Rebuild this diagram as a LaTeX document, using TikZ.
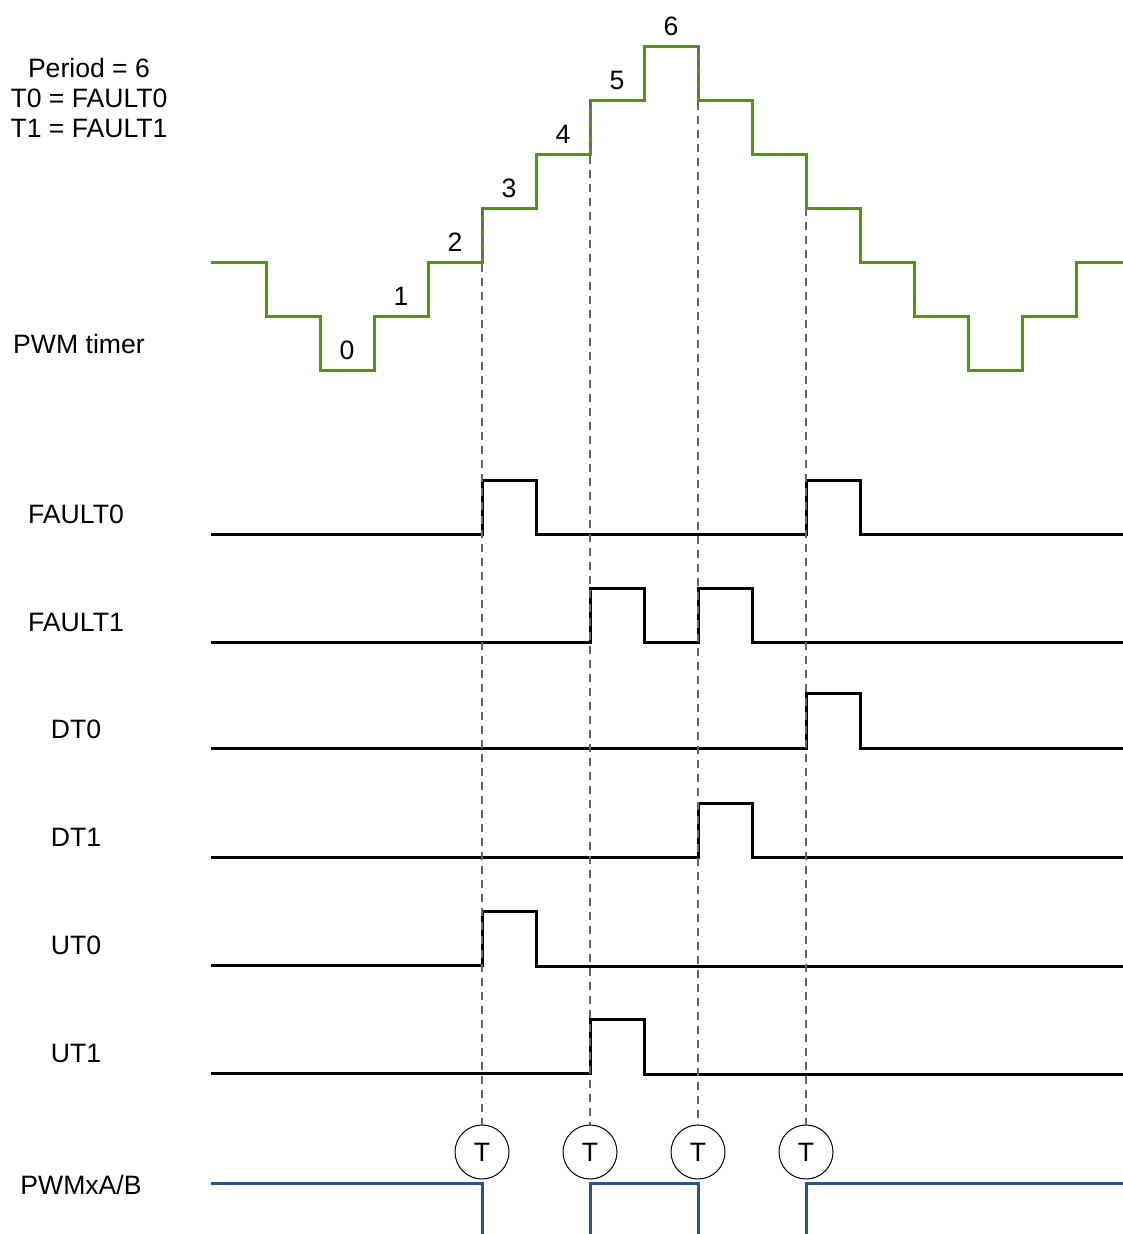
\documentclass[tikz,border=0pt]{standalone}
\usepackage{fontspec}
\setmainfont{Liberation Sans}
\usetikzlibrary{positioning}
\definecolor{timergreen}{HTML}{4E9A06}
\definecolor{pwmblue}{HTML}{2A5294}

\begin{document}
\begin{tikzpicture}[
  x=1pt, y=-1pt,
  every node/.style={font=\fontsize{26.6}{30}\selectfont, inner sep=1pt},
  sig/.style={draw=black, line width=3pt, line join=miter},
  timer/.style={sig, draw=timergreen},
  pwm/.style={sig, draw=pwmblue},
  trig/.style={draw, circle, line width=1pt, minimum size=54pt, inner sep=0pt},
  guide/.style={draw=black!60, line width=1.5pt, dash pattern=on 8pt off 6pt}
]
  \useasboundingbox (0,0) rectangle (1123,1234);

  % legend and row labels
  \node[align=center] (info) at (89,98) {Period = 6\\T0 = FAULT0\\T1 = FAULT1};
  \node (lbltimer) at (79,344) {PWM timer};
  \node (lblf0) at (76,514) {FAULT0};
  \node (lblf1) at (76,622) {FAULT1};
  \node (lbldt0) at (76,729) {DT0};
  \node (lbldt1) at (76,837) {DT1};
  \node (lblut0) at (76,945) {UT0};
  \node (lblut1) at (76,1053) {UT1};
  \node (lblpwm) at (81,1185) {PWMxA/B};

  % PWM timer staircase
  \draw[timer] (211,262) -| (266,316) -| (320,370) -| (374,316) -| (428,262)
    -| (482,208) -| (536,154) -| (590,100) -| (644,46) -| (698,100)
    -| (752,154) -| (806,208) -| (860,262) -| (914,316) -| (968,370)
    -| (1022,316) -| (1076,262) -- (1123,262);
  \foreach \n in {0,...,6}
    \node (cnt\n) at ({347+54*\n}, {350-54*\n}) {\n};

  % fault, dead-time and under-trip signals
  \draw[sig] (211,534) -- (482,534) |- (536,480) |- (806,534) |- (860,480) |- (1123,534);
  \draw[sig] (211,642) -- (590,642) |- (644,588) |- (698,642) |- (752,588) |- (1123,642);
  \draw[sig] (211,748) -- (806,748) |- (860,693) |- (1123,748);
  \draw[sig] (211,857) -- (698,857) |- (752,803) |- (1123,857);
  \draw[sig] (211,965) -- (482,965) |- (536,911) |- (1123,966);
  \draw[sig] (211,1073) -- (590,1073) |- (644,1019) |- (1123,1074);

  % trip events
  \node[trig] (t1) at (482,1152) {T};
  \node[trig] (t2) at (590,1152) {T};
  \node[trig] (t3) at (698,1152) {T};
  \node[trig] (t4) at (806,1152) {T};
  \coordinate (g1) at (482,208);
  \coordinate (g2) at (590,100);
  \coordinate (g3) at (698,46);
  \coordinate (g4) at (806,208);
  \foreach \i in {1,...,4}
    \draw[guide] (g\i) -- (t\i.north);

  % PWM output
  \draw[pwm] (211,1183) -| (482,1234);
  \draw[pwm] (590,1234) |- (698,1183) -- (698,1234);
  \draw[pwm] (806,1234) |- (1123,1183);
\end{tikzpicture}
\end{document}
